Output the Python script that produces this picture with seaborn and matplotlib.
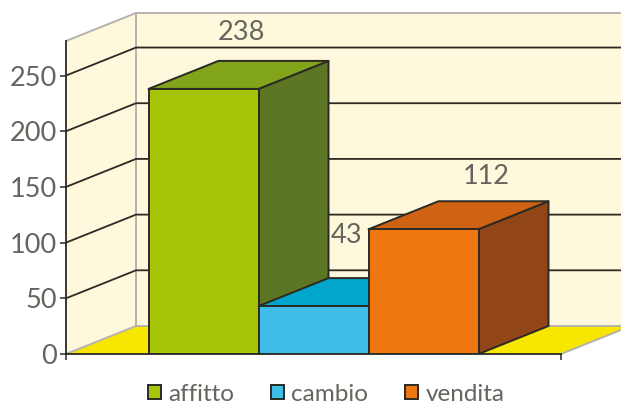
import pandas as pd
import seaborn as sns
import matplotlib.pyplot as plt
from matplotlib.patches import Polygon

categories = ['affitto', 'cambio', 'vendita']
values = [238, 43, 112]
value_labels = ['238', '43', '112']
y_ticks = [0, 50, 100, 150, 200, 250]

front_colors = ['#A6C408', '#3DBDE8', '#EE780F']
top_colors = ['#82A41A', '#00A6CC', '#CF6213']
side_colors = ['#5C7623', '#0086A8', '#924516']
label_offsets = [(3, 28), (-2, 43), (28, 25)]

WALL = '#FEF8DC'
FLOOR = '#F7E600'
GREY = '#B5B3AB'
DARK = '#2B2A24'
TEXT = '#65655F'

sns.set_style('white')
plt.rcParams['font.family'] = ['Lato', 'DejaVu Sans']

W, H = 621, 405
fig = plt.figure(figsize=(W / 100, H / 100), dpi=100)
ax = fig.add_axes([66 / W, (H - 354) / H, 495 / W, 313 / H])
ax.patch.set_alpha(0)

df = pd.DataFrame({'categoria': categories, 'valore': values})
sns.barplot(data=df, x='categoria', y='valore', hue='categoria', hue_order=categories,
            palette=front_colors, width=1.0, dodge=False, saturation=1,
            edgecolor=DARK, linewidth=1.4, legend=True, ax=ax)

x_lo, x_hi, y_top = -1.25, 3.25, 281
ax.set_xlim(x_lo, x_hi)
ax.set_ylim(0, y_top)

# depth of the fake 3d box, in data units
dx = 70 / 110
dy = 28 / (313 / y_top)


def poly(pts, fc, ec, z, lw=1.4):
    ax.add_patch(Polygon(pts, closed=True, facecolor=fc, edgecolor=ec, linewidth=lw,
                         zorder=z, clip_on=False, joinstyle='round'))


# walls and floor
poly([(x_lo + dx, dy), (x_hi + dx, dy), (x_hi + dx, y_top + dy), (x_lo + dx, y_top + dy)], WALL, 'none', 0.1)
poly([(x_lo, 0), (x_lo + dx, dy), (x_lo + dx, y_top + dy), (x_lo, y_top)], WALL, 'none', 0.1)
poly([(x_lo, 0), (x_hi, 0), (x_hi + dx, dy), (x_lo + dx, dy)], FLOOR, 'none', 0.2)

ax.plot([x_lo, x_lo + dx, x_hi + dx], [y_top, y_top + dy, y_top + dy], color=GREY, lw=1.4, zorder=0.5, clip_on=False)
ax.plot([x_lo + dx, x_lo + dx], [dy, y_top + dy], color=GREY, lw=1.4, zorder=0.5, clip_on=False)
ax.plot([x_lo, x_lo + dx, x_hi + dx], [0, dy, dy], color=GREY, lw=1.4, zorder=0.5, clip_on=False)
ax.plot([x_hi, x_hi + dx], [0, dy], color=GREY, lw=1.4, zorder=0.5, clip_on=False)

for t in y_ticks[1:]:
    ax.plot([x_lo, x_lo + dx, x_hi + dx], [t, t + dy, t + dy], color=DARK, lw=1.3, zorder=0.6, clip_on=False)

# boxes, left to right so later ones cover earlier ones
bars = [c[0] for c in ax.containers]
for i, patch in enumerate(bars):
    x0 = patch.get_x()
    x1 = x0 + patch.get_width()
    v = patch.get_height()
    z = 2 + i
    poly([(x1, 0), (x1 + dx, dy), (x1 + dx, v + dy), (x1, v)], side_colors[i], DARK, z)
    poly([(x0, v), (x1, v), (x1 + dx, v + dy), (x0 + dx, v + dy)], top_colors[i], DARK, z)
    patch.set_zorder(z + 0.5)
    ax.annotate(value_labels[i], (x0 + 0.5 + dx / 2, v + dy), xytext=label_offsets[i],
                textcoords='offset pixels', ha='center', va='center',
                fontsize=19.5, color=TEXT, zorder=10, annotation_clip=False)

ax.set_xlabel('')
ax.set_ylabel('')
ax.set_xticks([x_lo, x_hi])
ax.set_xticklabels([])
ax.set_yticks(y_ticks)
ax.tick_params(axis='both', length=4.5, width=1.1, color=DARK, left=True, bottom=True)
ax.tick_params(axis='y', labelsize=19.5, labelcolor=TEXT, pad=2)
sns.despine(ax=ax, top=True, right=True)
for s in ['left', 'bottom']:
    ax.spines[s].set_color(DARK)
    ax.spines[s].set_linewidth(1.3)
    ax.spines[s].set_zorder(8)

sns.move_legend(ax, 'center', bbox_to_anchor=((326 - 66) / 495, -0.128), ncol=3,
                frameon=False, title=None, fontsize=17.5, labelcolor=TEXT, handlelength=0.55,
                handleheight=0.55, handletextpad=0.3, columnspacing=1.5)

fig.savefig('out.png', dpi=100)
